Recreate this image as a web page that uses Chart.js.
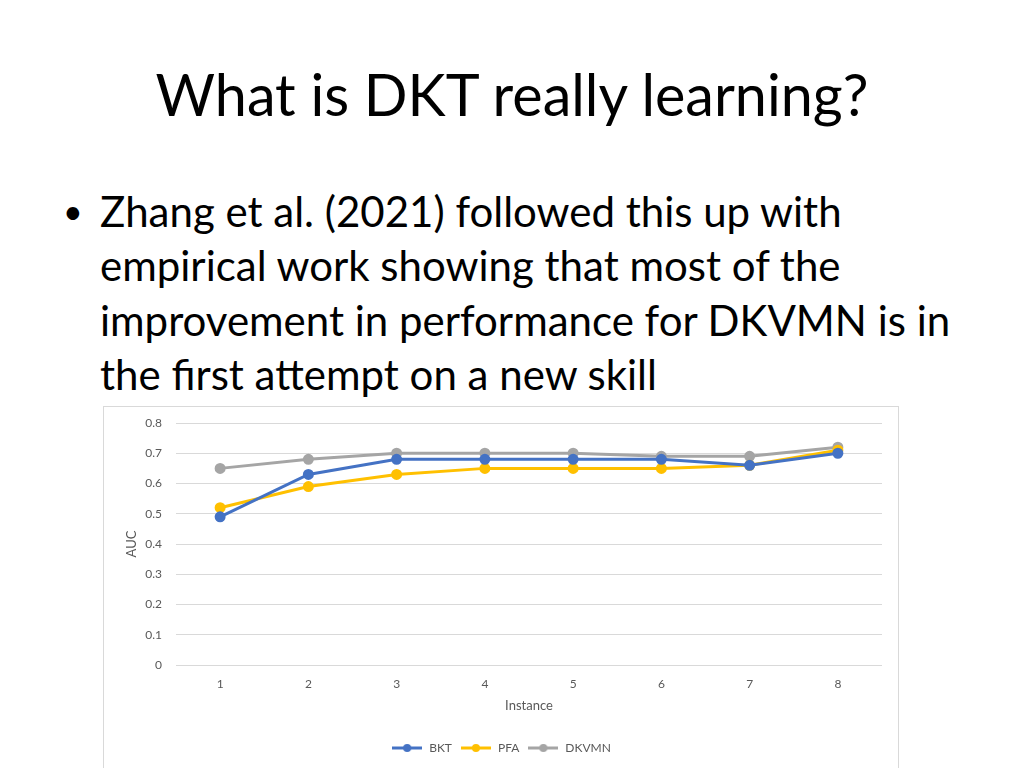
<!DOCTYPE html>
<html>
<head>
<meta charset="utf-8">
<script src="https://cdn.jsdelivr.net/npm/chart.js@4.4.1/dist/chart.umd.min.js"></script>
<style>
  html, body { margin: 0; padding: 0; background: #fff; overflow: hidden; }
  body { width: 1024px; height: 768px; position: relative; font-family: Lato, "Open Sans", sans-serif; color: #000; }
  #title { position: absolute; left: 0; top: 65px; width: 1024px; text-align: center; font-size: 57.5px; line-height: 1; white-space: nowrap; }
  #bullets { position: absolute; left: 100px; top: 184px; font-size: 42px; line-height: 54.3px; white-space: nowrap; }
  #bullets .dot { position: absolute; left: -37px; top: 0; font-size: 34px; }
  #chartBox { position: absolute; left: 103px; top: 406px; width: 794px; height: 368px; border: 1px solid #d9d9d9; background: #fff; }
  #chartBox canvas { display: block; }
</style>
</head>
<body>
<div id="title">What is DKT really learning?</div>
<div id="bullets">
  <span class="dot">•</span>Zhang et al. (2021) followed this up with<br>
  empirical work showing that most of the<br>
  improvement in performance for DKVMN is in<br>
  the first attempt on a new skill
</div>
<div id="chartBox"><canvas id="aucChart" width="794" height="368"></canvas></div>
<script>
const instances = ['1', '2', '3', '4', '5', '6', '7', '8'];
const bktAUC   = [0.49, 0.63, 0.68, 0.68, 0.68, 0.68, 0.66, 0.70];
const pfaAUC   = [0.52, 0.59, 0.63, 0.65, 0.65, 0.65, 0.66, 0.71];
const dkvmnAUC = [0.65, 0.68, 0.70, 0.70, 0.70, 0.69, 0.69, 0.72];
const seriesNames = ['BKT', 'PFA', 'DKVMN'];
const seriesColors = ['#4472C4', '#FFC000', '#A5A5A5'];

// legend marker: short line with a dot, like the office chart
function lineMarker(color) {
    const c = document.createElement('canvas');
    c.width = 30; c.height = 10;
    const g = c.getContext('2d');
    g.strokeStyle = color;
    g.lineWidth = 3;
    g.beginPath(); g.moveTo(0, 5); g.lineTo(30, 5); g.stroke();
    g.fillStyle = color;
    g.beginPath(); g.arc(15, 5, 4, 0, Math.PI * 2); g.fill();
    return c;
}

const allSeries = [bktAUC, pfaAUC, dkvmnAUC];
let dsets = [];
for (let i = 0; i < allSeries.length; i++) {
    dsets.push({
        label: seriesNames[i],
        data: allSeries[i],
        borderColor: seriesColors[i],
        backgroundColor: seriesColors[i],
        borderWidth: 3,
        pointRadius: 4,
        pointHoverRadius: 4,
        pointStyle: 'circle',
        fill: false,
        tension: 0
    });
}

Chart.defaults.font.family = 'Lato, "Open Sans", sans-serif';
Chart.defaults.color = '#595959';

new Chart(document.getElementById('aucChart'), {
    type: 'line',
    data: { labels: instances, datasets: dsets },
    options: {
        responsive: false,
        animation: false,
        devicePixelRatio: 1,
        layout: { padding: { top: 16, right: 16, bottom: 11, left: 16 } },
        scales: {
            x: {
                offset: true,
                grid: { display: false },
                border: { display: false },
                ticks: { font: { size: 12 }, padding: 4 },
                title: { display: true, text: 'Instance', font: { size: 13 }, padding: { top: 0, bottom: 20 } },
                afterFit(scale) { scale.height = 69; }
            },
            y: {
                min: 0, max: 0.8,
                ticks: { stepSize: 0.1, font: { size: 12 }, padding: 1,
                    callback: v => (Math.round(v * 10) / 10).toString() },
                // invisible tick marks keep the labels away from the grid
                grid: { color: '#d9d9d9', lineWidth: 1, drawTicks: true, tickLength: 13, tickColor: 'rgba(0,0,0,0)' },
                border: { display: false },
                title: { display: true, text: 'AUC', font: { size: 13 }, padding: 4 },
                afterFit(scale) { scale.width = 56; }
            }
        },
        plugins: {
            tooltip: { enabled: false },
            legend: {
                position: 'bottom',
                labels: {
                    usePointStyle: true,
                    pointStyleWidth: 32,
                    font: { size: 12 },
                    padding: 8,
                    generateLabels(chart) {
                        return chart.data.datasets.map((d, i) => ({
                            text: d.label,
                            pointStyle: lineMarker(seriesColors[i]),
                            fillStyle: seriesColors[i],
                            strokeStyle: seriesColors[i],
                            lineWidth: 0,
                            fontColor: '#595959',
                            datasetIndex: i
                        }));
                    }
                }
            }
        }
    }
});
</script>
</body>
</html>
